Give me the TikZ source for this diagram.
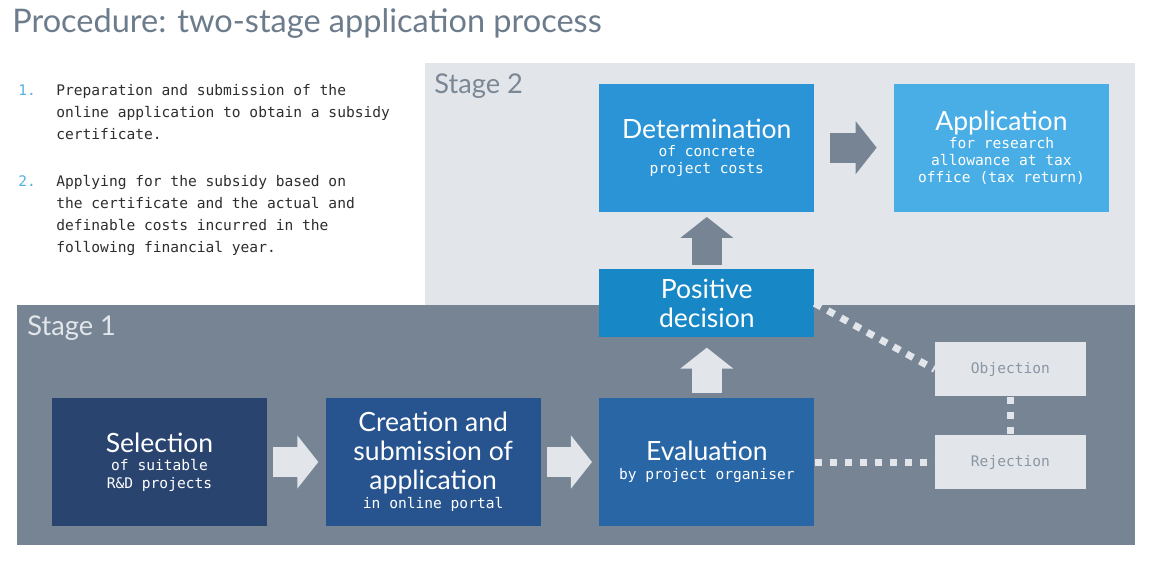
\documentclass[tikz,border=0pt]{standalone}
\usepackage{fontspec}
\setmainfont{Lato}
\setmonofont{DejaVu Sans Mono}
\usetikzlibrary{arrows.meta,positioning}

\definecolor{stageone}{HTML}{768494}
\definecolor{stagetwo}{HTML}{E2E6EA}
\definecolor{titlegray}{HTML}{6C7C8C}
\definecolor{stagegray}{HTML}{7B8794}
\definecolor{listgray}{HTML}{2E2E2E}
\definecolor{listblue}{HTML}{55B0E6}
\definecolor{sidetext}{HTML}{8A96A4}
\definecolor{selblue}{HTML}{2A4470}
\definecolor{creblue}{HTML}{27538E}
\definecolor{evablue}{HTML}{2866A6}
\definecolor{posblue}{HTML}{1787C6}
\definecolor{detblue}{HTML}{2A94D6}
\definecolor{appblue}{HTML}{4AAEE6}

\newcommand\subline{\ttfamily\fontsize{8.3}{9.8}\selectfont}

\begin{document}
\begin{tikzpicture}[
  x=0.02cm, y=-0.02cm,
  node distance=1.2cm and 1.16cm,
  stepbox/.style={
    minimum width=4.3cm,
    minimum height=2.56cm,
    inner sep=0pt,
    align=center,
    text=white,
    font=\fontsize{15.1}{16.5}\selectfont
  },
  sidebox/.style={
    fill=stagetwo,
    minimum width=3.02cm,
    minimum height=1.08cm,
    inner sep=0pt,
    text=sidetext,
    font=\ttfamily\fontsize{8.3}{10}\selectfont
  },
  blockarrow/.style={line width=0.6cm, -{Triangle[length=0.42cm, width=1.04cm]}},
  dotline/.style={draw=stagetwo, line width=0.14cm, dash pattern=on 0.15cm off 0.15cm},
  stagelabel/.style={anchor=base west, inner sep=0pt, font=\fontsize{15.5}{18}\selectfont},
  listtext/.style={anchor=north west, inner sep=0pt, align=left, text=listgray,
    font=\ttfamily\fontsize{8.3}{12.5}\selectfont},
  listnum/.style={anchor=base west, inner sep=0pt, text=listblue,
    font=\ttfamily\fontsize{8.3}{12.5}\selectfont}
]
\useasboundingbox (0,0) rectangle (1149,561);
\fill[white] (0,0) rectangle (1149,561);

% the two stages
\fill[stagetwo] (425,63) rectangle (1135,305);
\fill[stageone] (17,305) rectangle (1135,545);

\node[anchor=base west, inner sep=0pt, text=titlegray, font=\fontsize{18.5}{22}\selectfont]
  (title) at (12,32) {Procedure: two-stage application process};

\node[listnum] (num1) at (18,95) {1.};
\node[listtext] (item1) at (56,84) {Preparation and submission of the\\online application to obtain a subsidy\\certificate.};
\node[listnum] (num2) at (18,186) {2.};
\node[listtext] (item2) at (56,175) {Applying for the subsidy based on\\the certificate and the actual and\\definable costs incurred in the\\following financial year.};

\node[stagelabel, text=stagegray] (stage2) at (434,93) {Stage 2};
\node[stagelabel, text=stagetwo] (stage1) at (27,335) {Stage 1};

% steps
\node[stepbox, fill=selblue] (sel) at (159.5,462) {Selection\\[-6pt]{\subline of suitable}\\[-6.7pt]{\subline R\&D projects}};
\node[stepbox, fill=creblue, right=of sel] (cre) {Creation and\\submission of\\application\\[-5.5pt]{\subline in online portal}};
\node[stepbox, fill=evablue, right=of cre] (eva) {Evaluation\\[-6pt]{\subline by project organiser}};
\node[stepbox, fill=posblue, minimum height=1.36cm, above=1.2cm of eva] (pos) {Positive\\decision};
\node[stepbox, fill=detblue, above=1.14cm of pos] (det) {Determination\\[-6pt]{\subline of concrete}\\[-6.7pt]{\subline project costs}};
\node[stepbox, fill=appblue, right=1.58cm of det] (app) {Application\\[-6pt]{\subline for research}\\[-6.9pt]{\subline allowance at tax}\\[-6.9pt]{\subline office (tax return)}};
\node[sidebox, right=2.4cm of eva] (rej) {Rejection};
\node[sidebox, above=0.76cm of rej] (obj) {Objection};

\draw[blockarrow, draw=stagetwo, shorten <=0.12cm, shorten >=0.14cm] (sel) -- (cre);
\draw[blockarrow, draw=stagetwo, shorten <=0.12cm, shorten >=0.14cm] (cre) -- (eva);
\draw[blockarrow, draw=stagetwo, shorten <=0.1cm, shorten >=0.2cm] (eva) -- (pos);
\draw[blockarrow, draw=stageone, shorten <=0.08cm, shorten >=0.1cm] (pos) -- (det);
\draw[blockarrow, draw=stageone, shorten <=0.3cm, shorten >=0.34cm] (det) -- (app);

\draw[dotline] (pos.east) -- (obj.west);
\draw[dotline] (eva) -- (rej);
\draw[dotline] (obj) -- (rej);
\end{tikzpicture}
\end{document}
